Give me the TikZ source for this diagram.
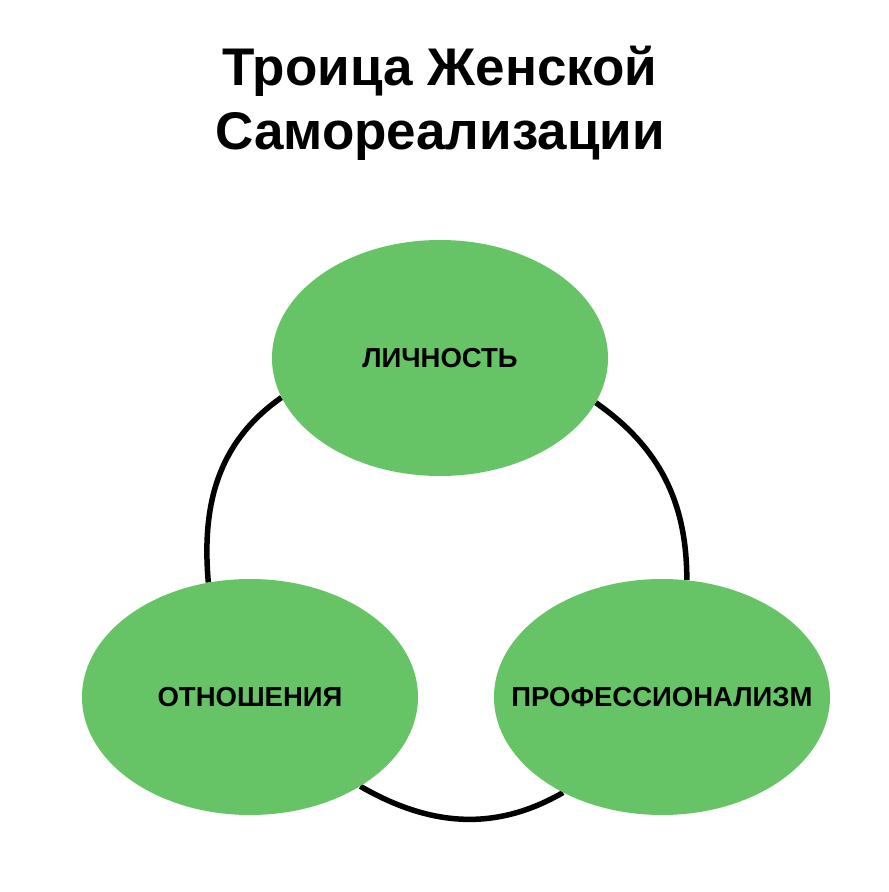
\documentclass[tikz,border=0pt]{standalone}
\usepackage{fontspec}
\setmainfont{Liberation Sans}
\usetikzlibrary{backgrounds,shapes.geometric}
\definecolor{leafgreen}{RGB}{102,196,102}

\begin{document}
\begin{tikzpicture}[
		x=1pt, y=1pt
		,n/.style={ellipse, fill=leafgreen, minimum width=336pt, minimum height=236pt, inner sep=0pt}
		,lbl/.style={font=\bfseries\fontsize{27.5}{32}\selectfont}
		,ring/.style={line width=5.5pt}
		,title/.style={align=center, font=\bfseries\fontsize{53}{64}\selectfont}
	]
		\useasboundingbox (0,0) rectangle (889,892);
		\node[title] (T) at (440,789) {Троица Женской\\Самореализации};

		\node[n, label={[lbl]center:ЛИЧНОСТЬ}] (L) at (440,534) {};
		\node[n, label={[lbl]center:ОТНОШЕНИЯ}] (O) at (250,195) {};
		\node[n, label={[lbl]center:ПРОФЕССИОНАЛИЗМ}] (P) at (662,195) {};

		\begin{pgfonlayer}{background}
			\draw[ring] (L.194) to[out=215, in=95] (O.110);
			\draw[ring] (O.-39) to[out=-30, in=210] (P.224);
			\draw[ring] (L.-16) to[out=-35, in=90] (P.78);
		\end{pgfonlayer}
	\end{tikzpicture}
\end{document}
